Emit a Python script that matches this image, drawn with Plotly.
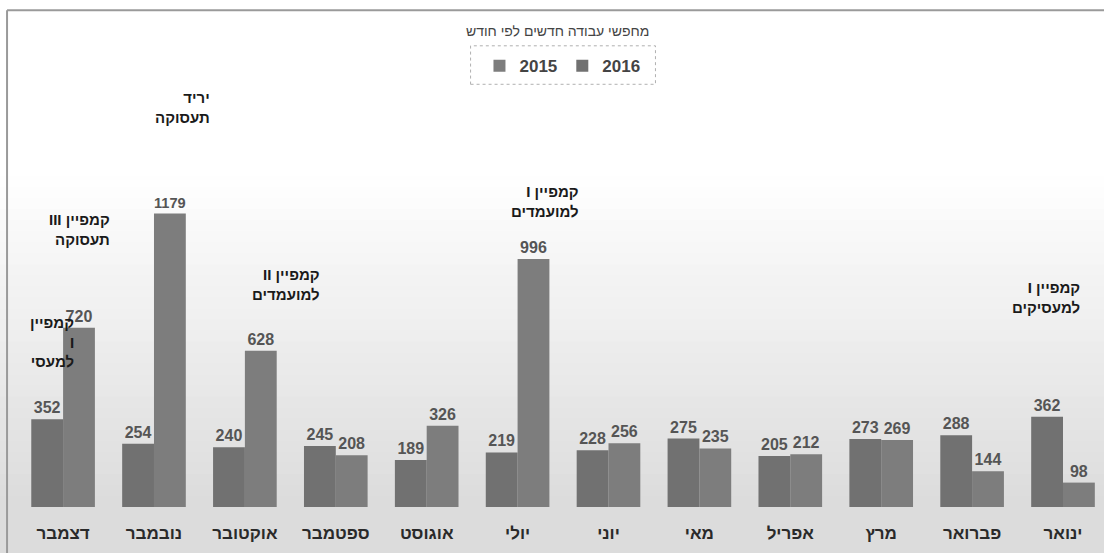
import plotly.graph_objects as go

months = ["ינואר", "פברואר", "מרץ", "אפריל", "מאי", "יוני",
          "יולי", "אוגוסט", "ספטמבר", "אוקטובר", "נובמבר", "דצמבר"]
values_2016 = [362, 288, 273, 205, 275, 228, 219, 189, 245, 240, 254, 352]
values_2015 = [98, 144, 269, 212, 235, 256, 996, 326, 208, 628, 1179, 720]
series_names = ["2015", "2016"]
title_text = "מחפשי עבודה חדשים לפי חודש"

RLE, PDF = "\u202b", "\u202c"
def rtl(s):
    return RLE + s + PDF

# (month, y of text bottom, x shift px, lines)
notes = [
    ("דצמבר", 1032, 49, ["קמפיין III", "תעסוקה"]),
    ("נובמבר", 1522, 58, ["יריד", "תעסוקה"]),
    ("אוקטובר", 811, 77, ["קמפיין II", "למועמדים"]),
    ("יולי", 1145, 63, ["קמפיין I", "למועמדים"]),
    ("ינואר", 759, 19, ["קמפיין I", "למעסיקים"]),
]

FONT = "Liberation Sans, DejaVu Sans, Arial, sans-serif"

fig = go.Figure()
fig.add_trace(go.Bar(
    x=months, y=values_2015, name=series_names[0],
    marker=dict(color="#7d7d7d", line=dict(width=0)),
    text=values_2015, textposition="outside", cliponaxis=False,
    textfont=dict(family=FONT, size=16, color="#555555", weight="bold"),
))
fig.add_trace(go.Bar(
    x=months, y=values_2016, name=series_names[1],
    marker=dict(color="#717171", line=dict(width=0)),
    text=values_2016, textposition="outside", cliponaxis=False,
    textfont=dict(family=FONT, size=16, color="#555555", weight="bold"),
))

# background gradient (white at top -> light grey at bottom)
shapes = []
n = 30
y_start, y_end = 0.68, 0.0
for i in range(n):
    t = (i + 1) / n
    v = int(round(255 - (255 - 220) * t))
    y1 = y_start - (y_start - y_end) * i / n
    y0 = y_start - (y_start - y_end) * (i + 1) / n
    shapes.append(dict(type="rect", xref="paper", yref="paper", x0=-0.02, x1=1.02,
                       y0=y0 - 0.002, y1=y1, fillcolor=f"rgb({v},{v},{v})",
                       line=dict(width=0), layer="below"))
shapes.append(dict(type="rect", xref="paper", yref="paper", x0=-0.02, x1=1.02,
                   y0=-0.2, y1=0.0, fillcolor="rgb(220,220,220)",
                   line=dict(width=0), layer="below"))
# frame
shapes.append(dict(type="line", xref="paper", yref="paper", x0=-0.0027, x1=1.02,
                   y0=1.02, y1=1.02, line=dict(color="#9a9a9a", width=2)))
shapes.append(dict(type="line", xref="paper", yref="paper", x0=-0.0027, x1=-0.0027,
                   y0=1.02, y1=-0.2, line=dict(color="#9a9a9a", width=2)))
# legend box
shapes.append(dict(type="rect", xref="paper", yref="paper", x0=0.421, x1=0.590,
                   y0=0.868, y1=0.947, line=dict(color="#b0b0b0", width=1, dash="dot"),
                   fillcolor="rgba(0,0,0,0)"))

annotations = []
for m, yv, xs, lines in notes:
    annotations.append(dict(
        x=m, y=yv, xref="x", yref="y", xanchor="right", yanchor="bottom",
        xshift=xs, align="right", showarrow=False,
        text="<br>".join(rtl(s) for s in lines),
        font=dict(family=FONT, size=15, color="#1a1a1a", weight="bold"),
    ))
# truncated label in December
annotations.append(dict(
    x="דצמבר", y=542, xref="x", yref="y", xanchor="right", yanchor="bottom",
    xshift=13, align="right", showarrow=False,
    text="קמפיין<br>I<br>למעסי",
    font=dict(family=FONT, size=15, color="#1a1a1a", weight="bold"),
))
annotations.append(dict(
    x=0.5, y=0.997, xref="paper", yref="paper", xanchor="center", yanchor="top",
    showarrow=False, text=title_text,
    font=dict(family=FONT, size=14, color="#444444"),
))

fig.update_layout(
    width=1104, height=553,
    margin=dict(l=10, r=0, t=20, b=46),
    paper_bgcolor="white", plot_bgcolor="rgba(0,0,0,0)",
    barmode="group", bargap=0.30, bargroupgap=0.0,
    showlegend=True,
    legend=dict(orientation="h", x=0.505, xanchor="center", y=0.942, yanchor="top",
                font=dict(family=FONT, size=17, color="#444444", weight="bold"),
                bgcolor="rgba(0,0,0,0)", traceorder="normal",
                itemwidth=30, itemsizing="constant"),
    xaxis=dict(type="category", categoryorder="array", categoryarray=months,
               range=[11.584, -0.451], showgrid=False, zeroline=False,
               showline=False, ticks="", ticklabelstandoff=14,
               tickfont=dict(family=FONT, size=17, color="#2a2a2a", weight="bold")),
    yaxis=dict(range=[0, 1956], visible=False, showgrid=False, zeroline=False),
    shapes=shapes, annotations=annotations,
    font=dict(family=FONT),
)

fig.write_html("out.html", config={"displayModeBar": False},
               post_script="document.body.style.margin='0';")
